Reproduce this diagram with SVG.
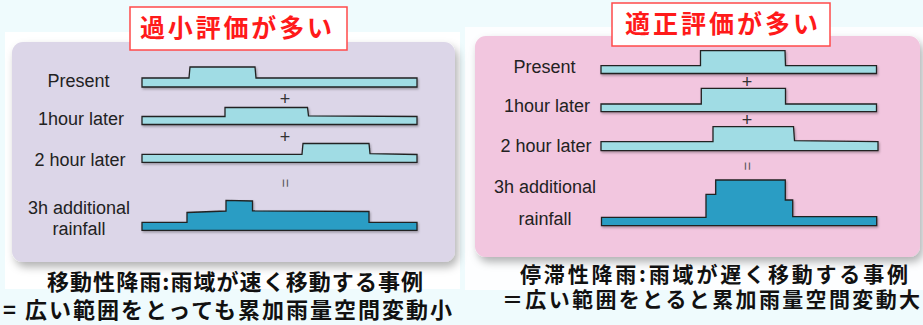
<svg xmlns="http://www.w3.org/2000/svg" width="923" height="325" viewBox="0 0 923 325">
<defs>
<style>
.lbl{font-family:"Liberation Sans","Noto Sans",Arial,sans-serif;font-size:18px;fill:#222;text-anchor:middle}
.op{font-family:"Liberation Sans",Arial,sans-serif;font-size:18px;fill:#333;text-anchor:middle}
.eq{font-family:"Liberation Sans",Arial,sans-serif;font-size:15px;fill:#555;text-anchor:middle}
.wl{fill:#a0dce4;stroke:#222;stroke-width:1.3;stroke-linejoin:miter}
.wd{fill:#2b9dc4;stroke:#222;stroke-width:1.3;stroke-linejoin:miter}
.ttl{font-family:"Noto Sans CJK JP","Noto Sans CJK SC",sans-serif;font-size:25px;font-weight:bold;fill:#ff1a1a}
.tbox{fill:#fff;stroke:#ff4a4a;stroke-width:1.5}
.cap{font-family:"Noto Sans CJK JP","Noto Sans CJK SC",sans-serif;font-size:22px;font-weight:bold;fill:#111}
.capr{font-family:"Noto Sans CJK JP","Noto Sans CJK SC",sans-serif;font-size:21px;font-weight:bold;fill:#111}
</style>
<filter id="sh" x="-5%" y="-5%" width="112%" height="120%">
<feDropShadow dx="3" dy="5" stdDeviation="4" flood-color="#000" flood-opacity="0.3"/>
</filter>
<filter id="ws" x="-2%" y="-20%" width="104%" height="150%">
<feDropShadow dx="1" dy="1.5" stdDeviation="0.8" flood-color="#000" flood-opacity="0.3"/>
</filter>
</defs>
<rect x="0" y="0" width="923" height="325" fill="#effbfd"/>
<rect x="5" y="32" width="455" height="257" fill="#ffffff"/>
<rect x="465" y="27" width="458" height="263" fill="#fdfeff"/>

<g id="panel-left">
<rect x="12" y="42" width="443" height="220" rx="11" fill="#dcd6e8" filter="url(#sh)"/>
<text class="lbl" x="78.5" y="86.5">Present</text>
<text class="lbl" x="81" y="125">1hour later</text>
<text class="lbl" x="80" y="165.5">2 hour later</text>
<text class="lbl" x="79" y="214">3h additional</text>
<text class="lbl" x="79" y="235">rainfall</text>
<g filter="url(#ws)">
<path class="wl" d="M142,78 H189 L190,67 H255 L256,78 H417 V87 H142 Z"/>
<path class="wl" d="M142,116.5 H225 V107.5 H307.5 L308.5,115.8 L417,116.5 V124.5 H142 Z"/>
<path class="wl" d="M142,154.3 H302 L303,143.5 H369 L370,153.7 L417,154.5 V162.3 H142 Z"/>
<path class="wd" d="M142,222.3 H187 V212.5 L226,211 V200.3 L252.5,201 V210.8 L369,211.5 V222.3 H417 V230.3 H142 Z"/>
</g>
<text class="op" x="285" y="105">+</text>
<text class="op" x="285" y="143">+</text>
<text class="eq" transform="translate(285,183) rotate(90)" y="5">=</text>
</g>

<g id="panel-right">
<rect x="475" y="36" width="445" height="221" rx="11" fill="#f2c6df" filter="url(#sh)"/>
<text class="lbl" x="544.5" y="72.5">Present</text>
<text class="lbl" x="547" y="111.5">1hour later</text>
<text class="lbl" x="546" y="151.5">2 hour later</text>
<text class="lbl" x="545" y="193">3h additional</text>
<text class="lbl" x="545" y="225">rainfall</text>
<g filter="url(#ws)">
<path class="wl" d="M601,65.7 H700.5 V50.7 H785 L785.5,65.7 H876.5 V73.5 H601 Z"/>
<path class="wl" d="M601,104 H701.3 V88.3 H785.5 V104 H876.5 V111.7 H601 Z"/>
<path class="wl" d="M601,141.7 H713 V126.7 H793.5 L794.5,140.7 L878,141.7 V150.7 H601 Z"/>
<path class="wd" d="M601.5,217.3 H706 V194.3 H715.7 V180 H785.3 V200 H792.7 V216.7 H876.7 V225.7 H601.5 Z"/>
</g>
<text class="op" x="747" y="87.5">+</text>
<text class="op" x="747" y="126">+</text>
<text class="eq" transform="translate(747,166) rotate(90)" y="5">=</text>
</g>

<g id="title-left">
<rect class="tbox" x="130" y="7" width="217" height="43"/>
<text class="ttl" x="140" y="37" textLength="192" lengthAdjust="spacing">過小評価が多い</text>
</g>
<g id="title-right">
<rect class="tbox" x="612" y="3" width="218" height="43"/>
<text class="ttl" x="625" y="33" textLength="193" lengthAdjust="spacing">適正評価が多い</text>
</g>

<g id="caption-left">
<text class="cap"><tspan x="47" y="290" textLength="376" lengthAdjust="spacing">移動性降雨:雨域が速く移動する事例</tspan><tspan x="3" y="317.5" textLength="449" lengthAdjust="spacing">= 広い範囲をとっても累加雨量空間変動小</tspan></text>
</g>
<g id="caption-right">
<text class="capr"><tspan x="520" y="282" textLength="388" lengthAdjust="spacing">停滞性降雨:雨域が遅く移動する事例</tspan><tspan x="502" y="306.5" textLength="418" lengthAdjust="spacing">＝広い範囲をとると累加雨量空間変動大</tspan></text>
</g>
</svg>
